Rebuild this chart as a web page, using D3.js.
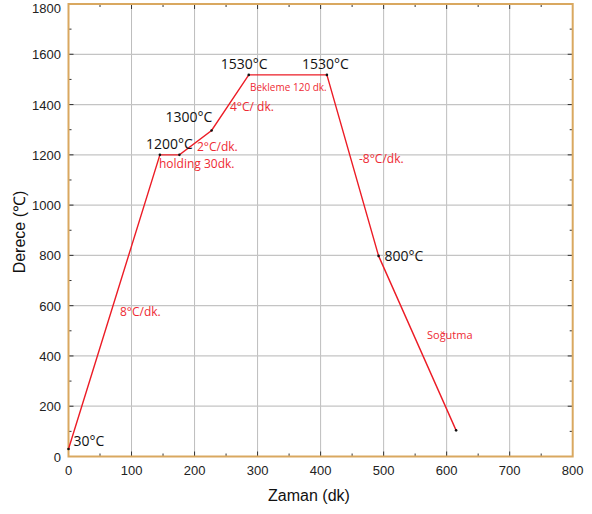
<!DOCTYPE html>
<html><head><meta charset="utf-8">
<script src="https://cdn.jsdelivr.net/npm/d3@7"></script>
<style>body{margin:0;background:#fff}svg{display:block}</style>
</head><body><svg id="c" width="592" height="514"></svg>
<script>
const timeMin = [0, 145, 176, 227, 286, 410, 492, 615];
const tempC   = [30, 1200, 1200, 1297, 1518, 1518, 798, 104];
const xTicks = [0,100,200,300,400,500,600,700,800];
const yTicks = [0,200,400,600,800,1000,1200,1400,1600,1800];
const blackLabels = [
  {t:"30°C", x:0, y:30, dx:5, dy:-8, a:"start"},
  {t:"1200°C", x:145, y:1200, dx:-14, dy:-11, a:"start"},
  {t:"1300°C", x:227, y:1297, dx:-46, dy:-13, a:"start"},
  {t:"1530°C", x:286, y:1518, dx:-28, dy:-11, a:"start"},
  {t:"1530°C", x:410, y:1518, dx:-25, dy:-11, a:"start"},
  {t:"800°C", x:492, y:798, dx:6, dy:0, a:"start"}
];
const redLabels = [
  {t:"8°C/dk.", x:120, y:312, s:12},
  {t:"holding 30dk.", x:159, y:164, s:12},
  {t:"2°C/dk.", x:197, y:147, s:12},
  {t:"4°C/ dk.", x:230, y:107, s:12},
  {t:"Bekleme 120 dk.", x:250, y:87, s:10},
  {t:"-8°C/dk.", x:359, y:159, s:12},
  {t:"Soğutma", x:427, y:335, s:11}
];
const svg = d3.select("#c");
const x = d3.scaleLinear().domain([0,800]).range([68.5,572.7]);
const y = d3.scaleLinear().domain([0,1800]).range([456.5,4]);
const g = svg.append("g");
// grid
g.selectAll(".gx").data(xTicks.slice(1,-1)).join("line")
 .attr("x1",d=>x(d)).attr("x2",d=>x(d)).attr("y1",y(0)).attr("y2",y(1800))
 .attr("stroke","#bdbdbd").attr("stroke-width",1);
g.selectAll(".gy").data(yTicks.slice(1,-1)).join("line")
 .attr("y1",d=>y(d)).attr("y2",d=>y(d)).attr("x1",x(0)).attr("x2",x(800))
 .attr("stroke","#c4c4c4").attr("stroke-width",1.3);
// minor/major inward ticks
const xm = d3.range(50,800,50), ym = d3.range(100,1800,100);
g.selectAll(".tb").data(xm).join("line").attr("x1",d=>x(d)).attr("x2",d=>x(d)).attr("y1",y(0)).attr("y2",d=>y(0)-(d%100?3:5)).attr("stroke","#333");
g.selectAll(".tt").data(xm).join("line").attr("x1",d=>x(d)).attr("x2",d=>x(d)).attr("y1",y(1800)).attr("y2",d=>y(1800)+(d%100?3:5)).attr("stroke","#333");
g.selectAll(".tl").data(ym).join("line").attr("y1",d=>y(d)).attr("y2",d=>y(d)).attr("x1",x(0)).attr("x2",d=>x(0)+(d%200?3:5)).attr("stroke","#333");
g.selectAll(".tr").data(ym).join("line").attr("y1",d=>y(d)).attr("y2",d=>y(d)).attr("x1",x(800)).attr("x2",d=>x(800)-(d%200?3:5)).attr("stroke","#333");
// frame
g.append("rect").attr("x",x(0)).attr("y",y(1800)).attr("width",x(800)-x(0)).attr("height",y(0)-y(1800))
 .attr("fill","none").attr("stroke","#d9a860").attr("stroke-width",2);
// tick labels
const tf = "'Liberation Sans', Arial, sans-serif";
g.selectAll(".xl").data(xTicks).join("text").attr("x",d=>x(d)).attr("y",475).attr("text-anchor","middle")
 .attr("font-family",tf).attr("font-size",13).attr("fill","#222").text(d=>d);
g.selectAll(".yl").data(yTicks).join("text").attr("x",61).attr("y",d=>Math.max(y(d)+5,13)).attr("text-anchor","end")
 .attr("font-family",tf).attr("font-size",13).attr("fill","#222").text(d=>d);
svg.append("text").attr("x",309).attr("y",501).attr("text-anchor","middle").attr("font-family",tf).attr("font-size",16).attr("fill","#111").text("Zaman (dk)");
svg.append("text").attr("transform","translate(25,232) rotate(-90)").attr("text-anchor","middle").attr("font-family",tf).attr("font-size",16).attr("fill","#111").text("Derece (℃)");
// line
const pts = timeMin.map((t,i)=>[t,tempC[i]]);
g.append("path").datum(pts).attr("d",d3.line().x(d=>x(d[0])).y(d=>y(d[1])))
 .attr("fill","none").attr("stroke","#ec1c26").attr("stroke-width",1.4);
g.selectAll(".pt").data(pts).join("circle").attr("cx",d=>x(d[0])).attr("cy",d=>y(d[1])).attr("r",1.3).attr("fill","#111");
// labels
const lf = "'Open Sans', 'Noto Sans', sans-serif";
g.selectAll(".bl").data(blackLabels).join("text")
 .attr("x",d=>x(d.x)+d.dx).attr("y",d=>y(d.y)+d.dy+5).attr("text-anchor",d=>d.a)
 .attr("font-family",lf).attr("font-size",14).attr("fill","#111").text(d=>d.t);
g.selectAll(".rl").data(redLabels).join("text")
 .attr("x",d=>d.x).attr("y",d=>d.y+d.s*0.36).attr("font-family",lf).attr("font-size",d=>d.s).attr("fill","#ee2a33").text(d=>d.t);
</script></body></html>
